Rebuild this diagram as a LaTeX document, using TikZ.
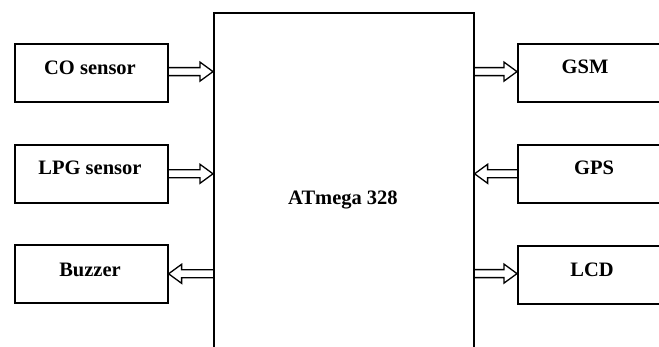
\documentclass[tikz,border=0pt]{standalone}
\usepackage{fontspec}
\setmainfont{Liberation Serif}
\usetikzlibrary{calc}
\tikzset{
  blk/.style={draw, line width=1.6pt, minimum width=153pt, minimum height=58pt, inner sep=0pt, anchor=north west},
  rblk/.style={draw, line width=1.6pt, minimum width=160pt, minimum height=58pt, inner sep=0pt, anchor=north west},
  lbl/.style={font=\fontsize{20.5}{24}\selectfont\bfseries, inner sep=0pt},
  blockarrow/.style={line width=1.3pt, line join=miter, to path={
    let \p1=(\tikztostart), \p2=(\tikztotarget), \n2={ifthenelse(\x2>\x1,13,-13)} in
    (\x1,{\y1+4pt}) -- ({\x2-(\n2)},{\y1+4pt}) -- ({\x2-(\n2)},{\y1+9.5pt}) -- (\x2,\y1)
    -- ({\x2-(\n2)},{\y1-9.5pt}) -- ({\x2-(\n2)},{\y1-4pt}) -- (\x1,{\y1-4pt})}}
}
\begin{document}
\begin{tikzpicture}[x=1pt,y=-1pt]
\useasboundingbox (0,0) rectangle (659,347);
\clip (0,0) rectangle (659,347);
% main box
\node[draw, line width=1.6pt, minimum width=260pt, minimum height=360pt, inner sep=0pt, anchor=north west] (mcu) at (213,12) {};
\node[lbl] (mcutext) at (343,200) {ATmega 328};
% left boxes
\node[blk] (co) at (14,43) {};
\node[lbl] (cotext) at (90,68) {CO sensor};
\node[blk] (lpg) at (14,144) {};
\node[lbl] (lpgtext) at (90,168) {LPG sensor};
\node[blk] (buz) at (14,244) {};
\node[lbl] (buztext) at (90,270) {Buzzer};
% right boxes
\node[rblk] (gsm) at (517,43) {};
\node[lbl] (gsmtext) at (585,67) {GSM};
\node[rblk] (gps) at (517,144) {};
\node[lbl] (gpstext) at (594,168) {GPS};
\node[rblk] (lcd) at (517,245) {};
\node[lbl] (lcdtext) at (592,270) {LCD};
% arrows
\coordinate (coA) at ($(co.north east)!0.48!(co.south east)$);
\coordinate (lpgA) at ($(lpg.north east)!0.5!(lpg.south east)$);
\coordinate (buzA) at ($(buz.north east)!0.5!(buz.south east)$);
\coordinate (gsmA) at ($(gsm.north west)!0.48!(gsm.south west)$);
\coordinate (gpsA) at ($(gps.north west)!0.5!(gps.south west)$);
\coordinate (lcdA) at ($(lcd.north west)!0.48!(lcd.south west)$);
\draw[blockarrow] (coA) to (mcu.west |- coA);
\draw[blockarrow] (lpgA) to (mcu.west |- lpgA);
\draw[blockarrow] (mcu.west |- buzA) to (buzA);
\draw[blockarrow] (mcu.east |- gsmA) to (gsmA);
\draw[blockarrow] (gpsA) to (mcu.east |- gpsA);
\draw[blockarrow] (mcu.east |- lcdA) to (lcdA);
\end{tikzpicture}
\end{document}
